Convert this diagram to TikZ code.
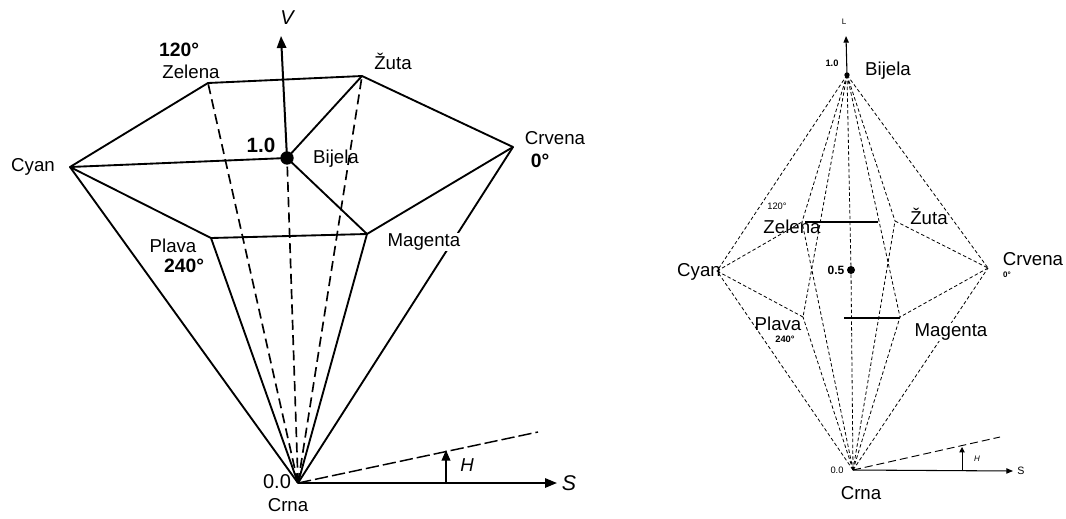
\documentclass[tikz,border=0pt]{standalone}
\usepackage{fontspec}
\setmainfont{Liberation Sans}
\usetikzlibrary{arrows.meta}
\begin{document}
\begin{tikzpicture}[x=0.75pt,y=-0.75pt,
  edge/.style={line width=1.4pt, line join=round},
  hid/.style={line width=1.25pt, dash pattern=on 7.5pt off 4pt},
  axis/.style={line width=1.5pt, -{Triangle[length=9pt,width=7pt]}},
  redge/.style={line width=0.6pt, dash pattern=on 2.6pt off 1.8pt},
  rsolid/.style={line width=0.9pt},
  raxis/.style={line width=0.8pt, -{Triangle[length=5pt,width=4pt]}},
  lab/.style={font=\fontsize{14}{16}\selectfont, inner sep=0.5pt},
  blab/.style={font=\bfseries\fontsize{14.5}{16}\selectfont, inner sep=0.5pt},
  rlab/.style={font=\fontsize{14}{16}\selectfont, inner sep=0.5pt},
  rsmall/.style={font=\bfseries\fontsize{7}{8}\selectfont, inner sep=0.5pt},
  dot/.style={circle, fill=black, inner sep=0pt}
]
\useasboundingbox (0,0) rectangle (1066,518);
\fill[white] (0,0) rectangle (1066,518);

% ---------------- left hexcone ----------------
\coordinate (lZe) at (208,83);
\coordinate (lZu) at (362,76);
\coordinate (lCr) at (513,147);
\coordinate (lCy) at (70,167);
\coordinate (lPl) at (211,238);
\coordinate (lMa) at (367,234);
\coordinate (lCrna) at (298,483);
\coordinate (lVtip) at (281,36);
\coordinate (lS) at (557,483);
\coordinate (lAng) at (538,432);
\coordinate (lHb) at (446,483);
\coordinate (lHt) at (446,450);
\node[dot, minimum size=10pt] (lBi) at (287,158) {};

% hidden edges
\draw[hid] (lCrna) -- (lZe);
\draw[hid] (lCrna) -- (lZu);
\draw[hid] (lCrna) -- (lBi.center);
% visible edges
\draw[edge] (lCy) -- (lZe) -- (lZu) -- (lCr) -- (lMa) -- (lPl) -- cycle;
\draw[edge] (lCy) -- (lBi.center);
\draw[edge] (lZu) -- (lBi.center);
\draw[edge] (lMa) -- (lBi.center);
\draw[edge] (lCy) -- (lCrna);
\draw[edge] (lPl) -- (lCrna);
\draw[edge] (lMa) -- (lCrna);
\draw[edge] (lCr) -- (lCrna);
% axes
\draw[axis] (lBi.center) -- (lVtip);
\draw[axis] (lCrna) -- (lS);
\draw[line width=1.1pt, dash pattern=on 10pt off 3pt] (lCrna) -- (lAng);
\draw[line width=1.3pt, -{Triangle[length=8pt,width=6.5pt]}] (lHb) -- (lHt);

% labels
\node[font=\itshape\fontsize{15}{17}\selectfont] (lV) at (287,18) {V};
\node[blab] (l120) at (179,50) {120°};
\node[lab] (lZeL) at (191,72) {Zelena};
\node[lab] (lZuL) at (393,61) {Žuta};
\node[lab] (lCrL) at (555,138) {Crvena};
\node[blab] (l0) at (540,161) {0°};
\node[lab] (lCyL) at (33,167) {Cyan};
\node[font=\bfseries\fontsize{15.5}{17}\selectfont, inner sep=0.5pt] (l10) at (261,145) {1.0};
\node[lab] (lBiL) at (336,159) {Bijela};
\node[lab] (lPlL) at (173,246) {Plava};
\node[blab] (l240) at (184,266) {240°};
\node[lab, fill=white] (lMaL) at (424,242) {Magenta};
\node[font=\fontsize{15}{17}\selectfont, inner sep=0.5pt] (l00) at (277,482) {0.0};
\node[lab] (lCrnaL) at (288,505) {Crna};
\node[font=\itshape\fontsize{16}{18}\selectfont] (lSL) at (569,483) {S};
\node[font=\itshape\fontsize{14}{16}\selectfont] (lHL) at (467,465) {H};

% ---------------- right double hexcone ----------------
\node[dot, minimum size=4pt] (rBi) at (847,75) {};
\coordinate (rCrna) at (853,470);
\coordinate (rCy) at (717,271);
\coordinate (rCr) at (988,268);
\coordinate (rZe) at (802,222);
\coordinate (rZu) at (895,221);
\coordinate (rPl) at (803,317);
\coordinate (rMa) at (900,317);
\node[dot, minimum size=6pt] (rMid) at (851,270) {};
\coordinate (rLtip) at (846,36);
\coordinate (rS) at (1013,471);
\coordinate (rAng) at (1000,437);
\coordinate (rHb) at (962,471);
\coordinate (rHt) at (962,447);
\coordinate (rZeE) at (805,222);
\coordinate (rZuE) at (878,222);
\coordinate (rPlE) at (844,318);
\coordinate (rMaE) at (900,318);

% dashed edges of both cones
\foreach \v in {rCy,rZe,rZu,rCr,rMa,rPl} {
  \draw[redge] (rBi.center) -- (\v);
  \draw[redge] (rCrna) -- (\v);
}
\draw[redge] (rBi.center) -- (rMid.center) -- (rCrna);
% hexagon rim
\draw[redge] (rCy) -- (rZe);
\draw[redge] (rZu) -- (rCr);
\draw[redge] (rCr) -- (rMa);
\draw[redge] (rPl) -- (rCy);
\draw[rsolid] (rZeE) -- (rZuE);
\draw[rsolid] (rPlE) -- (rMaE);
% axes
\draw[raxis] (rBi.center) -- (rLtip);
\draw[raxis] (rCrna) -- (rS);
\draw[line width=0.7pt, dash pattern=on 6pt off 3pt] (rCrna) -- (rAng);
\draw[line width=0.7pt, -{Triangle[length=4pt,width=4pt]}] (rHb) -- (rHt);

% labels
\node[font=\fontsize{6}{7}\selectfont] (rLL) at (844,22) {L};
\node[rsmall] (r10) at (832,63) {1.0};
\node[rlab] (rBiL) at (888,71) {Bijela};
\node[rlab] (rCyL) at (699,272) {Cyan};
\node[rlab] (rCrL) at (1033,259) {Crvena};
\node[font=\bfseries\fontsize{6}{7}\selectfont, inner sep=0.5pt] (r0) at (1007,275) {0°};
\node[font=\fontsize{7}{8}\selectfont, inner sep=0.5pt] (r120) at (777,206) {120°};
\node[rlab] (rZeL) at (792,227) {Zelena};
\node[rlab] (rZuL) at (929,216) {Žuta};
\node[rlab] (rPlL) at (778,324) {Plava};
\node[rsmall] (r240) at (785,339) {240°};
\node[rlab, fill=white] (rMaL) at (951,332) {Magenta};
\node[font=\bfseries\fontsize{9}{10}\selectfont, inner sep=0.5pt] (r05) at (836,270) {0.5};
\node[font=\fontsize{7}{8}\selectfont, inner sep=0.5pt] (r00) at (837,470) {0.0};
\node[rlab] (rCrnaL) at (861,493) {Crna};
\node[font=\fontsize{8}{9}\selectfont] (rSL) at (1021,471) {S};
\node[font=\itshape\fontsize{6}{7}\selectfont] (rHL) at (977,459) {H};
\end{tikzpicture}
\end{document}
